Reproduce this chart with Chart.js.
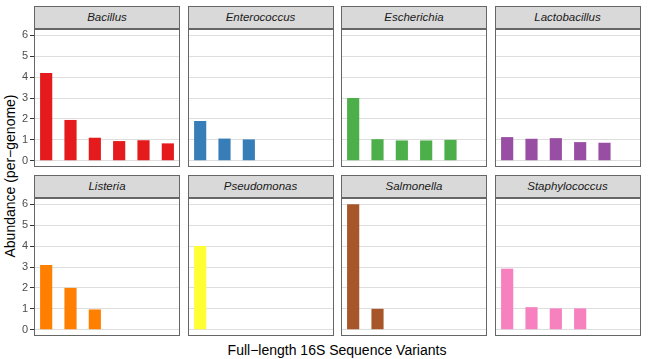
<!DOCTYPE html>
<html>
<head>
<meta charset="utf-8">
<script src="https://cdn.jsdelivr.net/npm/chart.js@4"></script>
<style>
  body { margin: 0; background: #fff; width: 667px; height: 359px; overflow: hidden; position: relative; font-family: "Liberation Sans", Arial, sans-serif; }
  .strip { position: absolute; box-sizing: border-box; height: 23px; background: #d9d9d9; border: 1px solid #666; text-align: center; font-style: italic; font-size: 11.5px; line-height: 21px; color: #1a1a1a; }
  canvas { position: absolute; }
  .ytitle { position: absolute; left: 10px; top: 176px; transform: translate(-50%, -50%) rotate(-90deg); white-space: nowrap; font-size: 14px; color: #000; }
  .xtitle { position: absolute; left: 337px; top: 350px; transform: translate(-50%, -50%); white-space: nowrap; font-size: 14px; color: #000; }
</style>
</head>
<body>
<div class="ytitle">Abundance (per−genome)</div>
<div class="xtitle">Full−length 16S Sequence Variants</div>
<script>
// sequence variant slots shared by every panel
var variants = ['1', '2', '3', '4', '5', '6'];
var genera = ['Bacillus', 'Enterococcus', 'Escherichia', 'Lactobacillus',
              'Listeria', 'Pseudomonas', 'Salmonella', 'Staphylococcus'];
var yTicks = [0, 1, 2, 3, 4, 5, 6];

var bacillus       = [4.2, 1.95, 1.1, 0.94, 0.98, 0.83];
var enterococcus   = [1.9, 1.06, 1.02];
var escherichia    = [3.0, 1.03, 0.97, 0.97, 1.0];
var lactobacillus  = [1.13, 1.05, 1.08, 0.89, 0.86];
var listeria       = [3.1, 2.0, 0.97];
var pseudomonas    = [4.0];
var salmonella     = [6.0, 1.0];
var staphylococcus = [2.92, 1.08, 1.02, 1.02];

var values = [bacillus, enterococcus, escherichia, lactobacillus,
              listeria, pseudomonas, salmonella, staphylococcus];
var colours = ['#e41a1c', '#377eb8', '#4daf4a', '#984ea3',
               '#ff7f00', '#ffff33', '#a65628', '#f781bf'];

var panelBorder = {
  id: 'panelBorder',
  afterDraw: function(chart) {
    var a = chart.chartArea, ctx = chart.ctx;
    ctx.save();
    ctx.strokeStyle = '#666';
    ctx.lineWidth = 1;
    ctx.strokeRect(a.left + 0.5, a.top + 0.5, a.right - a.left - 1, a.bottom - a.top - 1);
    ctx.restore();
  }
};

function panel(i) {
  var col = i % 4, row = Math.floor(i / 4);
  var left = 34 + col * 153.5, top = 6 + row * 169;
  var w = 146, h = 138, axisW = col === 0 ? 34 : 0;

  var strip = document.createElement('div');
  strip.className = 'strip';
  strip.style.left = left + 'px';
  strip.style.top = top + 'px';
  strip.style.width = w + 'px';
  strip.textContent = genera[i];
  document.body.appendChild(strip);

  var cv = document.createElement('canvas');
  cv.width = w + axisW;
  cv.height = h + 16;
  cv.style.left = (left - axisW) + 'px';
  cv.style.top = (top + 23 - 8) + 'px';
  document.body.appendChild(cv);

  return new Chart(cv.getContext('2d'), {
    type: 'bar',
    data: {
      labels: variants,
      datasets: [{
        data: values[i],
        backgroundColor: colours[i],
        borderWidth: 0,
        categoryPercentage: 1,
        barPercentage: 0.5
      }]
    },
    options: {
      responsive: false,
      animation: false,
      layout: { padding: { top: 8, bottom: 8, left: 0, right: 0 } },
      plugins: { legend: { display: false }, tooltip: { enabled: false } },
      scales: {
        x: { display: false, offset: true },
        y: {
          min: -0.3,
          max: 6.3,
          afterBuildTicks: function(s) {
            s.ticks = yTicks.map(function(v) { return { value: v }; });
          },
          afterFit: function(s) {
            s.width = axisW;
            s.paddingTop = 0;
            s.paddingBottom = 0;
          },
          border: { display: false },
          grid: {
            color: '#dedede',
            lineWidth: 1,
            drawTicks: col === 0,
            tickLength: 4,
            tickColor: '#333'
          },
          ticks: {
            display: col === 0,
            padding: 2,
            color: '#4d4d4d',
            font: { family: 'Liberation Sans', size: 11 }
          }
        }
      }
    },
    plugins: [panelBorder]
  });
}

for (var i = 0; i < genera.length; i++) panel(i);
</script>
</body>
</html>
